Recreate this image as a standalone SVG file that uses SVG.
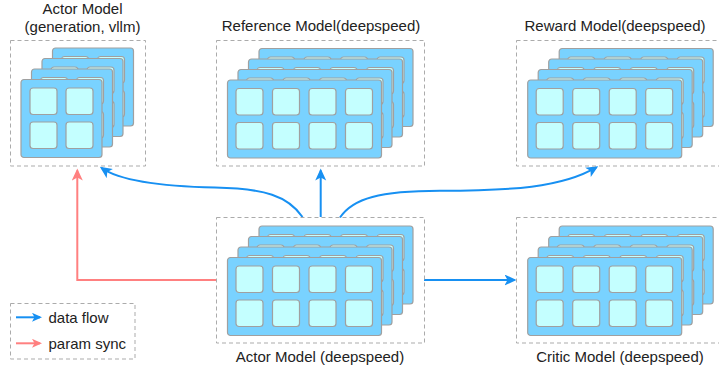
<svg xmlns="http://www.w3.org/2000/svg" width="719" height="373" viewBox="0 0 719 373">
<style>
.box{fill:none;stroke:#ababab;stroke-width:1;stroke-dasharray:4 3}
.card{fill:#79d2ff;stroke:#a0a0a0;stroke-width:1.2}
.sq{fill:#c4ffff;stroke:#a0a0a0;stroke-width:1.2}
.lbl{font-family:"Liberation Sans",Arial,sans-serif;font-size:15px;fill:#222}
.mid{text-anchor:middle}
.blue{fill:none;stroke:#1790f2;stroke-width:2}
.red{fill:none;stroke:#ff8080;stroke-width:2}
</style>
<defs>
<marker id="ab" markerUnits="userSpaceOnUse" markerWidth="14" markerHeight="12" refX="10" refY="5.5" orient="auto">
<path d="M0,0 L12,5.5 L0,11 L3,5.5 Z" fill="#1790f2"/>
</marker>
<marker id="ar" markerUnits="userSpaceOnUse" markerWidth="14" markerHeight="12" refX="10" refY="5.5" orient="auto">
<path d="M0,0 L12,5.5 L0,11 L3,5.5 Z" fill="#ff8080"/>
</marker>
<marker id="abs" markerUnits="userSpaceOnUse" markerWidth="12" markerHeight="10" refX="8" refY="4.5" orient="auto">
<path d="M0,0 L10,4.5 L0,9 L2.5,4.5 Z" fill="#1790f2"/>
</marker>
<marker id="ars" markerUnits="userSpaceOnUse" markerWidth="12" markerHeight="10" refX="8" refY="4.5" orient="auto">
<path d="M0,0 L10,4.5 L0,9 L2.5,4.5 Z" fill="#ff8080"/>
</marker>
<g id="cardL">
<rect class="card" x="0" y="0" width="154" height="78" rx="3"/>
<rect class="sq" x="8.5" y="8.5" width="27" height="26.5" rx="3"/>
<rect class="sq" x="45" y="8.5" width="27" height="26.5" rx="3"/>
<rect class="sq" x="81.5" y="8.5" width="27" height="26.5" rx="3"/>
<rect class="sq" x="118" y="8.5" width="27" height="26.5" rx="3"/>
<rect class="sq" x="8.5" y="42.5" width="27" height="26.5" rx="3"/>
<rect class="sq" x="45" y="42.5" width="27" height="26.5" rx="3"/>
<rect class="sq" x="81.5" y="42.5" width="27" height="26.5" rx="3"/>
<rect class="sq" x="118" y="42.5" width="27" height="26.5" rx="3"/>
</g>
<g id="cardS">
<rect class="card" x="0" y="0" width="81" height="78" rx="3"/>
<rect class="sq" x="9" y="8.5" width="27" height="26.5" rx="3"/>
<rect class="sq" x="45" y="8.5" width="27" height="26.5" rx="3"/>
<rect class="sq" x="9" y="42.5" width="27" height="26.5" rx="3"/>
<rect class="sq" x="45" y="42.5" width="27" height="26.5" rx="3"/>
</g>
<g id="stackL">
<use href="#cardL" x="31.5" y="-31.5"/>
<use href="#cardL" x="21" y="-21"/>
<use href="#cardL" x="10.5" y="-10.5"/>
<use href="#cardL" x="0" y="0"/>
</g>
</defs>

<g id="connectors">
<path class="red" d="M216,280 H77.3 V170.5" marker-end="url(#ar)"/>
<path class="blue" d="M302.5,217 C288,196 265,188.5 215,187.5 C165,186.5 122,182 101.5,168" marker-end="url(#ab)"/>
<path class="blue" d="M320.7,217 V170.5" marker-end="url(#ab)"/>
<path class="blue" d="M340,217.5 C353,198 380,191 440,190.8 C510,190.5 562,188 596.5,167.2" marker-end="url(#ab)"/>
<path class="blue" d="M424,280 H514.5" marker-end="url(#ab)"/>
</g>

<g id="actor-gen">
<rect class="box" x="10.5" y="40.5" width="135" height="125.5"/>
<use href="#cardS" x="52.5" y="48"/>
<use href="#cardS" x="42" y="58.5"/>
<use href="#cardS" x="31.5" y="69"/>
<use href="#cardS" x="21" y="79.5"/>
<text class="lbl mid" x="82.5" y="14">Actor Model</text>
<text class="lbl mid" x="82.5" y="32">(generation, vllm)</text>
</g>

<g id="reference">
<rect class="box" x="216.5" y="40.5" width="208" height="125.5"/>
<use href="#stackL" x="227.5" y="80"/>
<text class="lbl mid" x="321" y="31">Reference Model(deepspeed)</text>
</g>

<g id="reward">
<rect class="box" x="516.5" y="40.5" width="208" height="125.5"/>
<use href="#stackL" x="527.7" y="80"/>
<text class="lbl mid" x="615" y="31">Reward Model(deepspeed)</text>
</g>

<g id="actor-ds">
<rect class="box" x="216.5" y="217.5" width="208" height="125.5"/>
<use href="#stackL" x="227.5" y="257.5"/>
<text class="lbl mid" x="320" y="361.5">Actor Model (deepspeed)</text>
</g>

<g id="critic">
<rect class="box" x="516.5" y="217.5" width="208" height="125.5"/>
<use href="#stackL" x="527.7" y="257.5"/>
<text class="lbl mid" x="620" y="362">Critic Model (deepspeed)</text>
</g>

<g id="legend">
<rect class="box" x="10.5" y="303.5" width="124.5" height="55.5"/>
<path class="blue" d="M16,317.3 H40" marker-end="url(#abs)"/>
<path class="red" d="M16,343.3 H40" marker-end="url(#ars)"/>
<text class="lbl" x="48.5" y="323">data flow</text>
<text class="lbl" x="48.5" y="349">param sync</text>
</g>
</svg>
